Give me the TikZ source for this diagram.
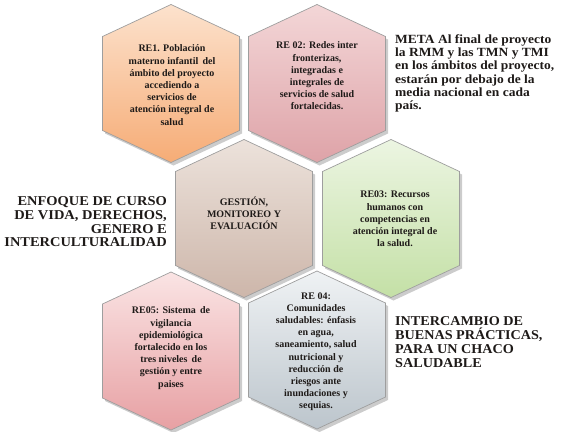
\documentclass[tikz,border=0pt]{standalone}
\usepackage{fontspec}
\setmainfont{Liberation Serif}
\newfontfamily\widea[FakeStretch=1.08]{Liberation Serif}
\newfontfamily\wideb[FakeStretch=1.07]{Liberation Serif}
\newfontfamily\widec[FakeStretch=1.05]{Liberation Serif}
\definecolor{inkc}{HTML}{1E1A18}
\tikzset{
  hexa/.pic={\path[pic actions] (0,-79) -- (68.5,-47) -- (68.5,47) -- (0,79) -- (-68.5,47) -- (-68.5,-47) -- cycle;},
  hexshadow/.style={fill=black, opacity=0.2},
  hexbox/.style={draw=black!38, line width=0.7pt},
  hextext/.style={align=center, text=inkc, font=\bfseries\fontsize{10}{12.2}\selectfont, inner sep=0pt},
  metatext/.style={text=inkc, inner sep=0pt, font=\widea\bfseries\fontsize{12.5}{13.3}\selectfont},
  enfoquetext/.style={text=inkc, inner sep=0pt, font=\wideb\bfseries\fontsize{13.5}{13.7}\selectfont},
  intertext/.style={text=inkc, inner sep=0pt, font=\widec\bfseries\fontsize{13.5}{14.2}\selectfont}
}
\begin{document}
\begin{tikzpicture}[x=1pt,y=-1pt]
\useasboundingbox (0,0) rectangle (562,431);
\coordinate (c1) at (171,83.5);
\coordinate (c2) at (317,83.5);
\coordinate (c3) at (244,218.5);
\coordinate (c4) at (391,218.5);
\coordinate (c5) at (171,351);
\coordinate (c6) at (317,350);
% shadows
\foreach \c in {c1,c2,c3,c4,c5,c6}{
  \path (\c) ++(2.5,3) pic[hexshadow] {hexa};
}
% hexagons
\path (c1) pic[hexbox, top color={rgb,255:red,252;green,226;blue,205}, bottom color={rgb,255:red,246;green,172;blue,118}] {hexa};
\path (c2) pic[hexbox, top color={rgb,255:red,243;green,214;blue,215}, bottom color={rgb,255:red,222;green,163;blue,168}] {hexa};
\path (c3) pic[hexbox, top color={rgb,255:red,236;green,226;blue,219}, bottom color={rgb,255:red,205;green,182;blue,170}] {hexa};
\path (c4) pic[hexbox, top color={rgb,255:red,236;green,245;blue,226}, bottom color={rgb,255:red,196;green,224;blue,166}] {hexa};
\path (c5) pic[hexbox, top color={rgb,255:red,250;green,228;blue,228}, bottom color={rgb,255:red,231;green,160;blue,163}] {hexa};
\path (c6) pic[hexbox, top color={rgb,255:red,239;green,242;blue,244}, bottom color={rgb,255:red,188;green,197;blue,204}] {hexa};
% hexagon texts
\node[hextext] (t1) at (172,85) {RE1. Población\\materno infantil\, del\\ámbito del proyecto\\accediendo a\\servicios de\\atención integral de\\salud};
\node[hextext] (t2) at (317,76) {RE 02: Redes inter\\fronterizas,\\integradas e\\integrales de\\servicios de salud\\fortalecidas.};
\node[hextext] (t3) at (244,213) {GESTIÓN,\\MONITOREO Y\\EVALUACIÓN};
\node[hextext] (t4) at (395,219) {RE03: Recursos\\humanos con\\competencias en\\atención integral de\\la salud.};
\node[hextext] (t5) at (171,348) {RE05: Sistema\, de\\vigilancia\\epidemiológica\\fortalecido en los\\tres niveles\, de\\gestión y entre\\paises};
\node[hextext] (t6) at (316,351.7) {RE 04:\\Comunidades\\saludables: énfasis\\en agua,\\saneamiento, salud\\nutricional y\\reducción de\\riesgos ante\\inundaciones y\\sequias.};
% outer texts
\node[metatext, anchor=west, align=left] (meta) at (395,73.3) {META Al final de proyecto\\la RMM y las TMN y TMI\\en los ámbitos del proyecto,\\estarán por debajo de la\\media nacional en cada\\país.};
\node[enfoquetext, anchor=east, align=right] (enfoque) at (167,222) {ENFOQUE DE CURSO\\DE VIDA, DERECHOS,\\GENERO E\\INTERCULTURALIDAD};
\node[intertext, anchor=west, align=left] (inter) at (395,342) {INTERCAMBIO DE\\BUENAS PRÁCTICAS,\\PARA UN CHACO\\SALUDABLE};
\end{tikzpicture}
\end{document}
